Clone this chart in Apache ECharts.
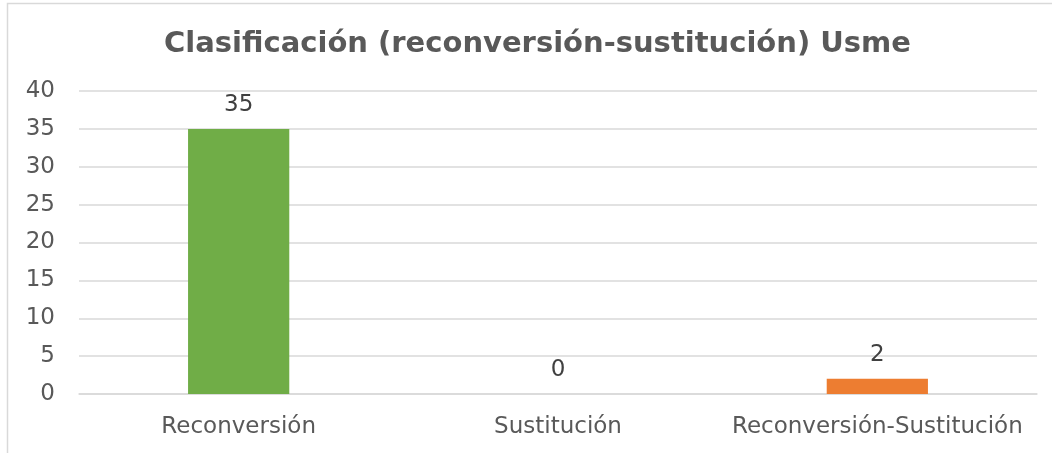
<!DOCTYPE html>
<html>
<head>
<meta charset="utf-8">
<script src="https://cdn.jsdelivr.net/npm/echarts@6/dist/echarts.min.js"></script>
<style>
  html, body { margin: 0; padding: 0; background: #fff; }
  #main { width: 1052px; height: 453px; }
</style>
</head>
<body>
<div id="main"></div>
<script>
// datos del gráfico
var categorias = ['Reconversión', 'Sustitución', 'Reconversión-Sustitución'];
var valores = [35, 0, 2];
var colores = ['#70AD47', '#70AD47', '#ED7D31'];

var chart = echarts.init(document.getElementById('main'));

var option = {
    animation: false,
    title: {
        text: 'Clasificación (reconversión-sustitución) Usme',
        left: 159,
        top: 25,
        textStyle: {
            fontFamily: 'DejaVu Sans',
            fontWeight: 'bold',
            fontSize: 29,
            color: '#595959'
        }
    },
    graphic: [{
        type: 'rect',
        shape: { x: 7.5, y: 3.5, width: 1200, height: 600 },
        style: { fill: 'none', stroke: '#d9d9d9', lineWidth: 1.5 },
        silent: true
    }],
    grid: {
        left: 79,
        right: 15,
        top: 91,
        bottom: 59
    },
    xAxis: {
        type: 'category',
        data: categorias,
        axisLine: { show: true, lineStyle: { color: '#d9d9d9', width: 1.5 } },
        axisTick: { show: false },
        axisLabel: {
            interval: 0,
            fontFamily: 'DejaVu Sans',
            fontSize: 23,
            color: '#595959',
            margin: 22
        }
    },
    yAxis: {
        type: 'value',
        min: 0,
        max: 40,
        interval: 5,
        axisLine: { show: false },
        axisTick: { show: false },
        splitLine: { lineStyle: { color: '#d9d9d9', width: 1.5 } },
        axisLabel: {
            fontFamily: 'DejaVu Sans',
            fontSize: 23,
            color: '#595959',
            margin: 24
        }
    },
    series: [{
        type: 'bar',
        barWidth: '31.7%',
        data: valores.map(function (v, i) {
            return { value: v, itemStyle: { color: colores[i] } };
        }),
        label: {
            show: true,
            position: 'top',
            distance: 12,
            fontFamily: 'DejaVu Sans',
            fontSize: 23,
            color: '#404040'
        }
    }]
};

chart.setOption(option);
</script>
</body>
</html>
